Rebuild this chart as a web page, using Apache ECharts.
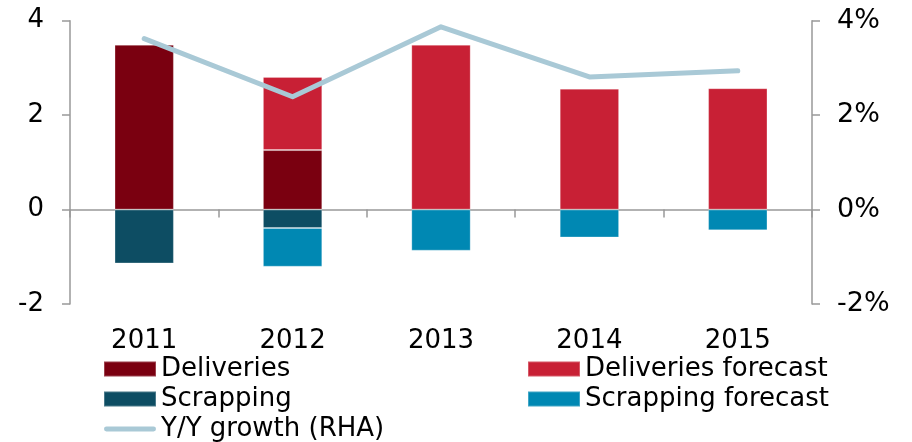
<!DOCTYPE html>
<html style="height: 100%">
    <head>
        <meta charset="utf-8">
    </head>
    <body style="height: 100%; margin: 0">
        <div id="container" style="height: 442px;width: 912px;"></div>
        <script type="text/javascript" src="https://cdn.jsdelivr.net/npm/echarts@6/dist/echarts.min.js"></script>
        <script type="text/javascript">
var dom = document.getElementById("container");
var myChart = echarts.init(dom);

const years = ['2011', '2012', '2013', '2014', '2015'];
const deliveries = [3.49, 1.26, null, null, null];
const deliveriesForecast = [null, 1.55, 3.49, 2.56, 2.57];
const scrapping = [-1.14, -0.39, null, null, null];
const scrappingForecast = [null, -0.82, -0.87, -0.59, -0.44];
const growth = [3.62, 2.39, 3.87, 2.81, 2.94];

const axisGray = '#999999';
const lineColor = '#a9c9d6';
const font = 'DejaVu Sans';

function barSeries(name, data, color) {
    return {
        name: name,
        type: 'bar',
        stack: 'total',
        barWidth: '40%',
        data: data,
        itemStyle: {
            color: color,
            borderColor: 'rgba(255,255,255,0.25)',
            borderWidth: 1
        }
    };
}

// bottom padding lifts the text a little against the icon
var legendText = { fontSize: 26, color: '#000', fontFamily: font, lineHeight: 24, padding: [0, 0, 6, 0] };

var option = {
    animation: false,
    textStyle: { fontFamily: font },
    grid: {
        left: 70,
        right: 100,
        top: 20.7,
        bottom: 138
    },
    legend: [
        {
            orient: 'vertical',
            left: 103,
            top: 354,
            height: 120,
            padding: 0,
            itemWidth: 52,
            itemHeight: 15,
            itemGap: 0,
            data: [
                { name: 'Deliveries', icon: 'rect' },
                { name: 'Scrapping', icon: 'rect' },
                { name: 'Y/Y growth (RHA)', icon: 'path://M2,0 L50,0 A2.5,2.5 0 0 1 50,5 L2,5 A2.5,2.5 0 0 1 2,0 Z' }
            ],
            textStyle: legendText
        },
        {
            orient: 'vertical',
            left: 527,
            top: 354,
            height: 120,
            padding: 0,
            itemWidth: 52,
            itemHeight: 15,
            itemGap: 0,
            data: [
                { name: 'Deliveries forecast', icon: 'rect' },
                { name: 'Scrapping forecast', icon: 'rect' }
            ],
            textStyle: legendText
        }
    ],
    xAxis: [
        {
            type: 'category',
            data: years,
            position: 'bottom',
            axisLine: { show: false, onZero: false },
            axisTick: { show: false },
            axisLabel: { fontSize: 26, color: '#000', margin: 24, fontFamily: font }
        },
        {
            type: 'category',
            data: years,
            position: 'bottom',
            axisLine: { show: true, onZero: true, onZeroAxisIndex: 0, lineStyle: { color: axisGray, width: 1.5 } },
            axisTick: { show: true, length: 8, lineStyle: { color: axisGray, width: 1.5 } },
            axisLabel: { show: false }
        }
    ],
    yAxis: [
        {
            type: 'value',
            min: -2,
            max: 4,
            interval: 2,
            splitLine: { show: false },
            axisLine: { show: true, lineStyle: { color: axisGray, width: 1.5 } },
            axisTick: { show: true, length: 8, lineStyle: { color: axisGray, width: 1.5 } },
            axisLabel: { fontSize: 26, color: '#000', margin: 26, fontFamily: font }
        },
        {
            type: 'value',
            min: -2,
            max: 4,
            interval: 2,
            position: 'right',
            splitLine: { show: false },
            axisLine: { show: true, lineStyle: { color: axisGray, width: 1.5 } },
            axisTick: { show: true, length: 8, lineStyle: { color: axisGray, width: 1.5 } },
            axisLabel: { fontSize: 27, color: '#000', margin: 25, fontFamily: font, formatter: '{value}%' }
        }
    ],
    series: [
        barSeries('Deliveries', deliveries, '#7a0010'),
        barSeries('Deliveries forecast', deliveriesForecast, '#c82035'),
        barSeries('Scrapping', scrapping, '#0d4d63'),
        barSeries('Scrapping forecast', scrappingForecast, '#0088b3'),
        {
            name: 'Y/Y growth (RHA)',
            type: 'line',
            yAxisIndex: 1,
            data: growth,
            symbol: 'none',
            z: 5,
            lineStyle: { color: lineColor, width: 5, cap: 'round', join: 'round' },
            itemStyle: { color: lineColor }
        }
    ]
};

myChart.setOption(option);
        </script>
    </body>
</html>
